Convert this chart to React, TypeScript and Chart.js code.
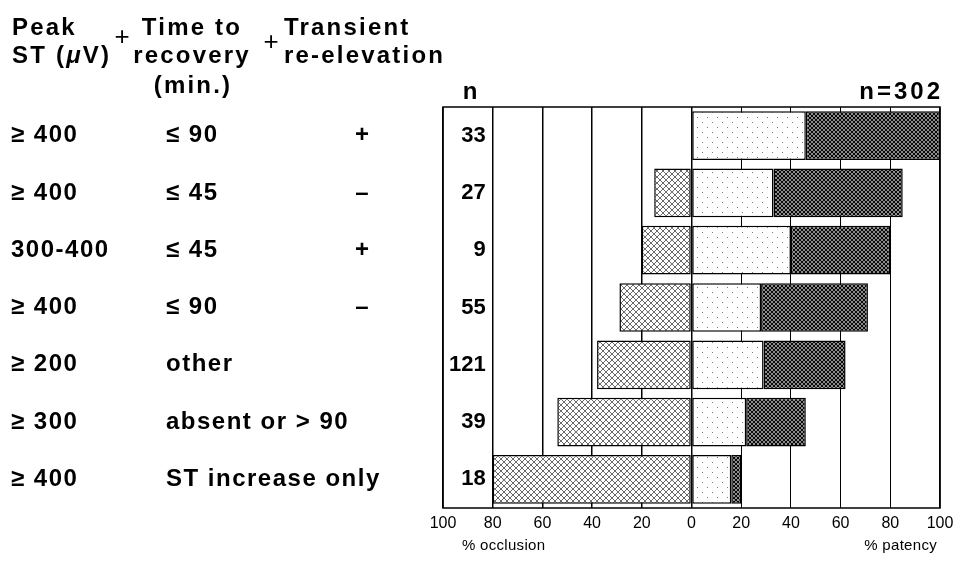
import React, { useEffect, useRef } from "react";
import { Chart, registerables } from "chart.js";

Chart.register(...registerables);

// ---- data ----
const peakST = ["≥ 400", "≥ 400", "300-400", "≥ 400", "≥ 200", "≥ 300", "≥ 400"];
const timeToRecovery = ["≤ 90", "≤ 45", "≤ 45", "≤ 90", "other", "absent or > 90", "ST increase only"];
const reElevation = ["+", "–", "+", "–", "", "", ""];
const nValues = [33, 27, 9, 55, 121, 39, 18];
const totalN = 302;
const occlusionPct = [0, 15, 20, 29, 38, 54, 80];
const patencyLight = [46, 33, 40, 28, 29, 22, 16];
const patencyDark = [54, 52, 40, 43, 33, 24, 4];
const xMin = -100;
const xMax = 100;
const xStep = 20;

const FONT = '"Liberation Sans", Arial, Helvetica, sans-serif';

function makePattern(size: number, draw: (g: CanvasRenderingContext2D, s: number) => void) {
  const c = document.createElement("canvas");
  c.width = size;
  c.height = size;
  const g = c.getContext("2d")!;
  draw(g, size);
  return g.createPattern(c, "repeat")!;
}

function setLS(ctx: any, v: string) {
  try {
    ctx.letterSpacing = v;
  } catch (e) {
    /* ignore */
  }
}

const tablePlugin = {
  id: "leftTable",
  afterDraw(chart: any) {
    const { ctx, chartArea: ca, scales } = chart;
    const y = scales.y;
    const x = scales.x;
    ctx.save();
    // box
    ctx.strokeStyle = "#000";
    ctx.lineWidth = 1.5;
    ctx.strokeRect(ca.left, ca.top, ca.right - ca.left, ca.bottom - ca.top);

    ctx.fillStyle = "#000";
    // header
    const hb = `bold 24px ${FONT}`;
    ctx.font = hb;
    setLS(ctx, "2.2px");
    ctx.textBaseline = "alphabetic";
    ctx.textAlign = "left";
    const b1 = 35;
    const b2 = 63;
    const b3 = 93;
    ctx.fillText("Peak", 12, b1);
    let px = 12;
    ctx.fillText("ST (", px, b2);
    px += ctx.measureText("ST (").width;
    ctx.font = `italic bold 24px ${FONT}`;
    ctx.fillText("μ", px, b2);
    px += ctx.measureText("μ").width;
    ctx.font = hb;
    ctx.fillText("V)", px, b2);
    ctx.textAlign = "center";
    ctx.fillText("Time to", 192, b1);
    ctx.fillText("recovery", 192, b2);
    ctx.fillText("(min.)", 193, b3);
    ctx.textAlign = "left";
    ctx.fillText("Transient", 284, b1);
    ctx.fillText("re-elevation", 284, b2);
    setLS(ctx, "0px");
    ctx.font = `26px ${FONT}`;
    ctx.textAlign = "center";
    ctx.textBaseline = "middle";
    ctx.fillText("+", 122, 38);
    ctx.fillText("+", 271, 43);

    // n headers
    ctx.font = `bold 24px ${FONT}`;
    ctx.textAlign = "center";
    ctx.fillText("n", 470, 92);
    setLS(ctx, "3px");
    ctx.textAlign = "right";
    ctx.fillText("n=" + totalN, ca.right + 3, 92);

    // rows
    const rowFont = `bold 24px ${FONT}`;
    for (let i = 0; i < nValues.length; i++) {
      const cy = y.getPixelForValue(i);
      ctx.font = rowFont;
      setLS(ctx, "1.5px");
      ctx.textAlign = "left";
      ctx.fillText(peakST[i], 11, cy);
      ctx.fillText(timeToRecovery[i], 166, cy);
      setLS(ctx, "0px");
      ctx.textAlign = "center";
      ctx.fillText(reElevation[i], 362, cy);
      ctx.font = `bold 22px ${FONT}`;
      ctx.textAlign = "right";
      ctx.fillText(String(nValues[i]), x.getPixelForValue(-80) - 7, cy);
    }

    // axis captions
    setLS(ctx, "0.3px");
    ctx.font = `15px ${FONT}`;
    ctx.textBaseline = "alphabetic";
    ctx.textAlign = "left";
    ctx.fillText("% occlusion", ca.left + 19, 550);
    ctx.textAlign = "right";
    ctx.fillText("% patency", ca.right - 3, 550);
    ctx.restore();
  },
};

export default function App() {
  const ref = useRef<HTMLCanvasElement>(null);
  useEffect(() => {
    const occPat = makePattern(6, (g, s) => {
      g.fillStyle = "#fff";
      g.fillRect(0, 0, s, s);
      g.fillStyle = "#6a6a6a";
      for (let i = 0; i < s; i++) {
        g.fillRect(i, i, 1, 1);
        g.fillRect(s - 1 - i, i, 1, 1);
      }
    });
    const lightPat = makePattern(10, (g, s) => {
      g.fillStyle = "#fff";
      g.fillRect(0, 0, s, s);
      g.fillStyle = "#777";
      g.fillRect(2, 2, 1, 1);
      g.fillRect(7, 7, 1, 1);
    });
    const darkPat = makePattern(4, (g, s) => {
      g.fillStyle = "#8c8c8c";
      g.fillRect(0, 0, s, s);
      g.fillStyle = "#0a0a0a";
      for (let i = 0; i < s; i++) {
        g.fillRect(i, i, 1, 1);
        g.fillRect(s - 1 - i, i, 1, 1);
      }
    });

    const chart = new Chart(ref.current!, {
      type: "bar",
      data: {
        labels: nValues.map(String),
        datasets: [
          { label: "occlusion", data: occlusionPct.map((v) => -v), backgroundColor: occPat },
          { label: "patency (light)", data: patencyLight, backgroundColor: lightPat },
          { label: "patency (dark)", data: patencyDark, backgroundColor: darkPat },
        ].map((d) => ({
          ...d,
          borderColor: "#000",
          borderWidth: 1.5,
          borderSkipped: false,
          barPercentage: 0.85,
          categoryPercentage: 1,
        })) as any,
      },
      options: {
        indexAxis: "y",
        responsive: false,
        animation: false,
        layout: { padding: { left: 443, right: 30, top: 107, bottom: 36 } },
        plugins: { legend: { display: false }, tooltip: { enabled: false } },
        scales: {
          x: {
            type: "linear",
            stacked: true,
            min: xMin,
            max: xMax,
            ticks: {
              stepSize: xStep,
              autoSkip: false,
              maxRotation: 0,
              padding: 6,
              color: "#000",
              font: { family: FONT, size: 16 },
              callback: (v: any) => String(Math.abs(Number(v))),
            },
            grid: {
              drawTicks: false,
              color: "#000",
              lineWidth: (c: any) => (c.tick && c.tick.value > 0 && c.tick.value < 100 ? 1 : 1.5),
            },
            border: { display: false },
            afterFit: (s: any) => {
              s.height = 26;
            },
          },
          y: {
            type: "category",
            stacked: true,
            display: false,
          },
        },
      },
      plugins: [tablePlugin],
    } as any);
    return () => chart.destroy();
  }, []);
  return (
    <div style={{ position: "absolute", left: 0, top: 0, width: 970, height: 570, background: "#fff" }}>
      <canvas ref={ref} width={970} height={570} style={{ display: "block" }} />
    </div>
  );
}
